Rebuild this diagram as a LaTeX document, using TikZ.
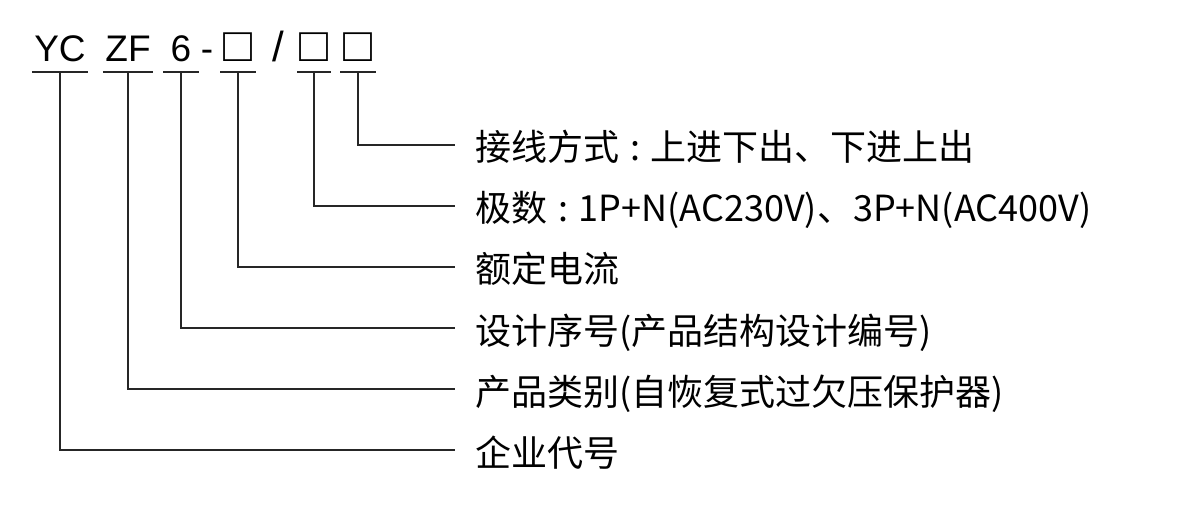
\documentclass[tikz,border=0pt]{standalone}
\usepackage{fontspec}
\setmainfont{Liberation Sans}
\newfontfamily\cjk{Noto Sans CJK SC}
\usetikzlibrary{positioning, calc}
\newcommand{\blank}{{\fontsize{48}{50}\selectfont □}}
\newcommand{\sep}{\hspace{0.3em}:\hspace{0.3em}}

\begin{document}
\begin{tikzpicture}[x=1pt, y=-1pt,
    line/.style={line width=2.8pt, black!85},
    code/.style={inner sep=0pt, text depth=10pt, anchor=south,
                 font=\fontsize{37}{40}\selectfont},
    desc/.style={anchor=west, inner xsep=20pt, inner ysep=0pt,
                 text height=34pt, text depth=2pt,
                 font=\cjk\fontsize{36}{40}\selectfont},
]
\useasboundingbox (0,0) rectangle (1200,505);

% model code
\node[code, minimum width=56pt] (yc) at (60,72) {YC};
\node[code, minimum width=50pt] (zf) at (128,72) {ZF};
\node[code, minimum width=35pt] (six) at (181,72) {6};
\node[code] (dash) at (207,72) {-};
\node[code, minimum width=35pt] (rate) at (238,72) {\blank};
\node[code, font=\fontsize{42}{44}\selectfont] (slash) at (278,72) {/};
\node[code, minimum width=33pt] (pole) at (314,72) {\blank};
\node[code, minimum width=35pt] (wire) at (358,72) {\blank};

\foreach \n in {yc, zf, six, rate, pole, wire}
    \draw[line] (\n.south west) -- (\n.south east);

% meanings
\node[desc] (wire-l) at (455,145) {接线方式\sep 上进下出、下进上出};
\node[desc] (pole-l) at (455,206) {极数\sep 1P+N(AC230V)、3P+N(AC400V)};
\node[desc] (rate-l) at (455,267) {额定电流};
\node[desc] (six-l) at (455,328) {设计序号(产品结构设计编号)};
\node[desc] (zf-l) at (455,389) {产品类别(自恢复式过欠压保护器)};
\node[desc] (yc-l) at (455,450) {企业代号};

\foreach \n in {yc, zf, six, rate, pole, wire}
    \draw[line] (\n.south) |- (\n-l.west);
\end{tikzpicture}
\end{document}
